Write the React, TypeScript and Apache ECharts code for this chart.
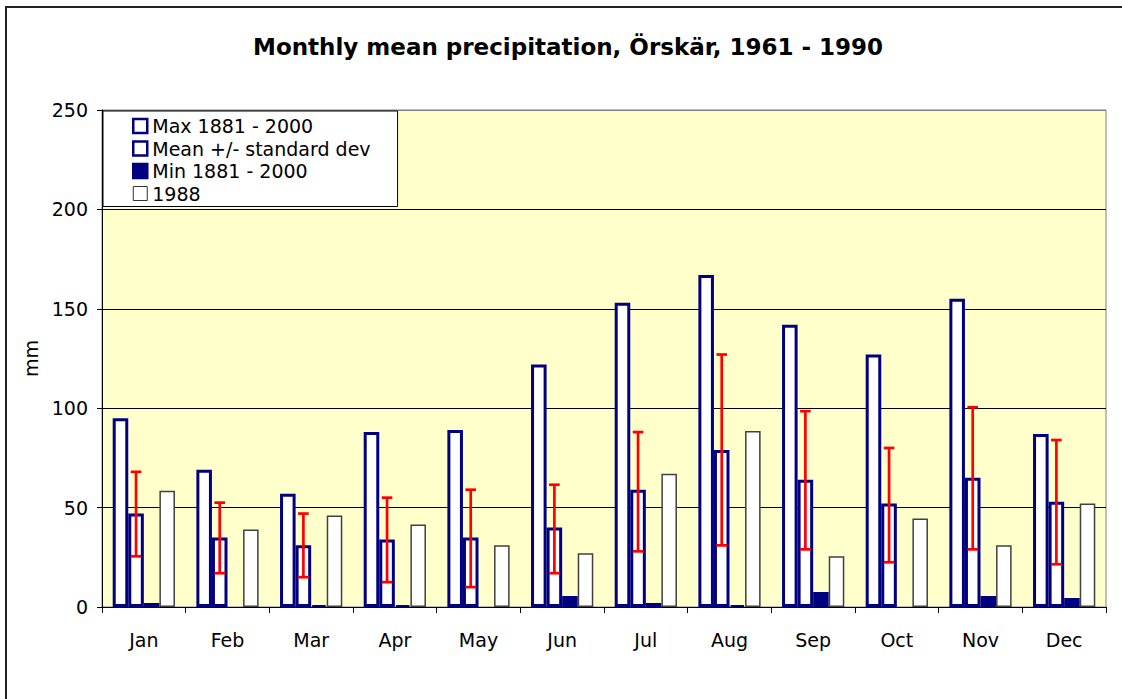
import React, { useEffect, useRef } from "react";
import * as echarts from "echarts";

const months = ["Jan", "Feb", "Mar", "Apr", "May", "Jun", "Jul", "Aug", "Sep", "Oct", "Nov", "Dec"];
const maxVals = [95, 69, 57, 88, 89, 122, 153, 167, 142, 127, 155, 87];
const meanVals = [47, 35, 31, 34, 35, 40, 59, 79, 64, 52, 65, 53];
const sdHigh = [68, 52.5, 47, 55, 59, 61.5, 88, 127, 98.5, 80, 100.5, 84];
const sdLow = [25.5, 17, 15, 12.5, 10, 17, 28, 31, 29, 22.5, 29, 21.5];
const minVals = [2, 0, 1, 1, 0, 5.5, 2, 1, 7.5, 0, 5.5, 4.5];
const vals1988 = [58.5, 39, 46, 41.5, 31, 27, 67, 88.5, 25.5, 44.5, 31, 52];
const yTicks = [0, 50, 100, 150, 200, 250];

const FONT = "'DejaVu Sans', Verdana, sans-serif";
const NAVY = "#000080";
const CAT_GAP = 0.256;

export default function App() {
  const ref = useRef<HTMLDivElement>(null);
  useEffect(() => {
    if (!ref.current) return;
    const chart = echarts.init(ref.current, null, { renderer: "svg" });
    const errData = months.map((_, i) => [i, sdLow[i], sdHigh[i]]);
    const option: any = {
      animation: false,
      backgroundColor: "#ffffff",
      textStyle: { fontFamily: FONT },
      title: {
        text: "Monthly mean precipitation, Örskär, 1961 - 1990",
        left: 248,
        top: 30,
        textStyle: { fontFamily: FONT, fontSize: 23, fontWeight: "bold", color: "#000" },
      },
      graphic: [
        {
          type: "rect",
          shape: { x: 6, y: 7, width: 1140, height: 720 },
          style: { fill: "none", stroke: "#222", lineWidth: 2 },
          silent: true,
          z: 100,
        },
      ],
      legend: {
        orient: "vertical",
        left: 103,
        top: 111,
        padding: [4, 27, 2, 29],
        itemGap: 0.5,
        itemWidth: 14,
        itemHeight: 14,
        itemTextGap: 3,
        backgroundColor: "#ffffff",
        borderColor: "#000",
        borderWidth: 1,
        textStyle: { fontFamily: FONT, fontSize: 19, color: "#000", lineHeight: 22 },
        data: [
          { name: "Max 1881 - 2000", icon: "rect", itemStyle: { color: "#fff", borderColor: NAVY, borderWidth: 2.5 } },
          { name: "Mean +/- standard dev", icon: "rect", itemStyle: { color: "#fff", borderColor: NAVY, borderWidth: 2.5 } },
          { name: "Min 1881 - 2000", icon: "rect", itemStyle: { color: NAVY, borderColor: NAVY, borderWidth: 2.5 } },
          { name: "1988", icon: "rect", itemStyle: { color: "#fff", borderColor: "#333", borderWidth: 1 } },
        ],
      },
      grid: {
        left: 102,
        right: 16,
        top: 110,
        bottom: 92,
        show: true,
        backgroundColor: "#FFFFCC",
        borderColor: "#808080",
        borderWidth: 1,
        containLabel: false,
      },
      xAxis: {
        type: "category",
        data: months,
        axisLine: { show: true, lineStyle: { color: "#000", width: 1 } },
        axisTick: { show: true, length: 6, lineStyle: { color: "#000" } },
        axisLabel: { fontFamily: FONT, fontSize: 19, color: "#000", margin: 23 },
        splitLine: { show: false },
      },
      yAxis: {
        type: "value",
        min: yTicks[0],
        max: yTicks[yTicks.length - 1],
        interval: 50,
        name: "mm",
        nameLocation: "middle",
        nameGap: 61,
        nameTextStyle: { fontFamily: FONT, fontSize: 19, color: "#000" },
        axisLine: { show: true, lineStyle: { color: "#000", width: 1 } },
        axisTick: { show: true, length: 5, lineStyle: { color: "#000" } },
        axisLabel: { fontFamily: FONT, fontSize: 19, color: "#000", margin: 14 },
        splitLine: {
          show: true,
          lineStyle: { color: ["#000", "#000", "#000", "#000", "#000", "#808080"], width: 1 },
        },
      },
      series: [
        {
          name: "Max 1881 - 2000",
          type: "bar",
          data: maxVals,
          barGap: "0%",
          barCategoryGap: CAT_GAP * 100 + "%",
          itemStyle: { color: "#ffffff", borderColor: NAVY, borderWidth: 3 },
        },
        {
          name: "Mean +/- standard dev",
          type: "bar",
          data: meanVals,
          itemStyle: { color: "#ffffff", borderColor: NAVY, borderWidth: 3 },
        },
        {
          name: "Min 1881 - 2000",
          type: "bar",
          data: minVals.map((v) => (v === 0 ? "-" : v)),
          itemStyle: { color: NAVY, borderColor: NAVY, borderWidth: 2 },
        },
        {
          name: "1988",
          type: "bar",
          data: vals1988,
          itemStyle: { color: "#ffffff", borderColor: "#404040", borderWidth: 1.5 },
        },
        {
          name: "errorbars",
          type: "custom",
          z: 10,
          encode: { x: 0, y: [1, 2] },
          data: errData,
          renderItem: (params: any, api: any) => {
            const xi = api.value(0);
            const lo = api.coord([xi, api.value(1)]);
            const hi = api.coord([xi, api.value(2)]);
            const band = api.size([1, 0])[0];
            const bw = (band * (1 - CAT_GAP)) / 4;
            const x = lo[0] - bw / 2;
            const cap = 5.3;
            const style = { stroke: "#ff0000", lineWidth: 2.7 };
            return {
              type: "group",
              children: [
                { type: "line", shape: { x1: x, y1: lo[1], x2: x, y2: hi[1] }, style },
                { type: "line", shape: { x1: x - cap, y1: lo[1], x2: x + cap, y2: lo[1] }, style },
                { type: "line", shape: { x1: x - cap, y1: hi[1], x2: x + cap, y2: hi[1] }, style },
              ],
            };
          },
        },
      ],
    };
    chart.setOption(option);
    return () => chart.dispose();
  }, []);
  return (
    <div
      ref={ref}
      style={{ position: "absolute", left: 0, top: 0, width: 1122, height: 699 }}
    />
  );
}
